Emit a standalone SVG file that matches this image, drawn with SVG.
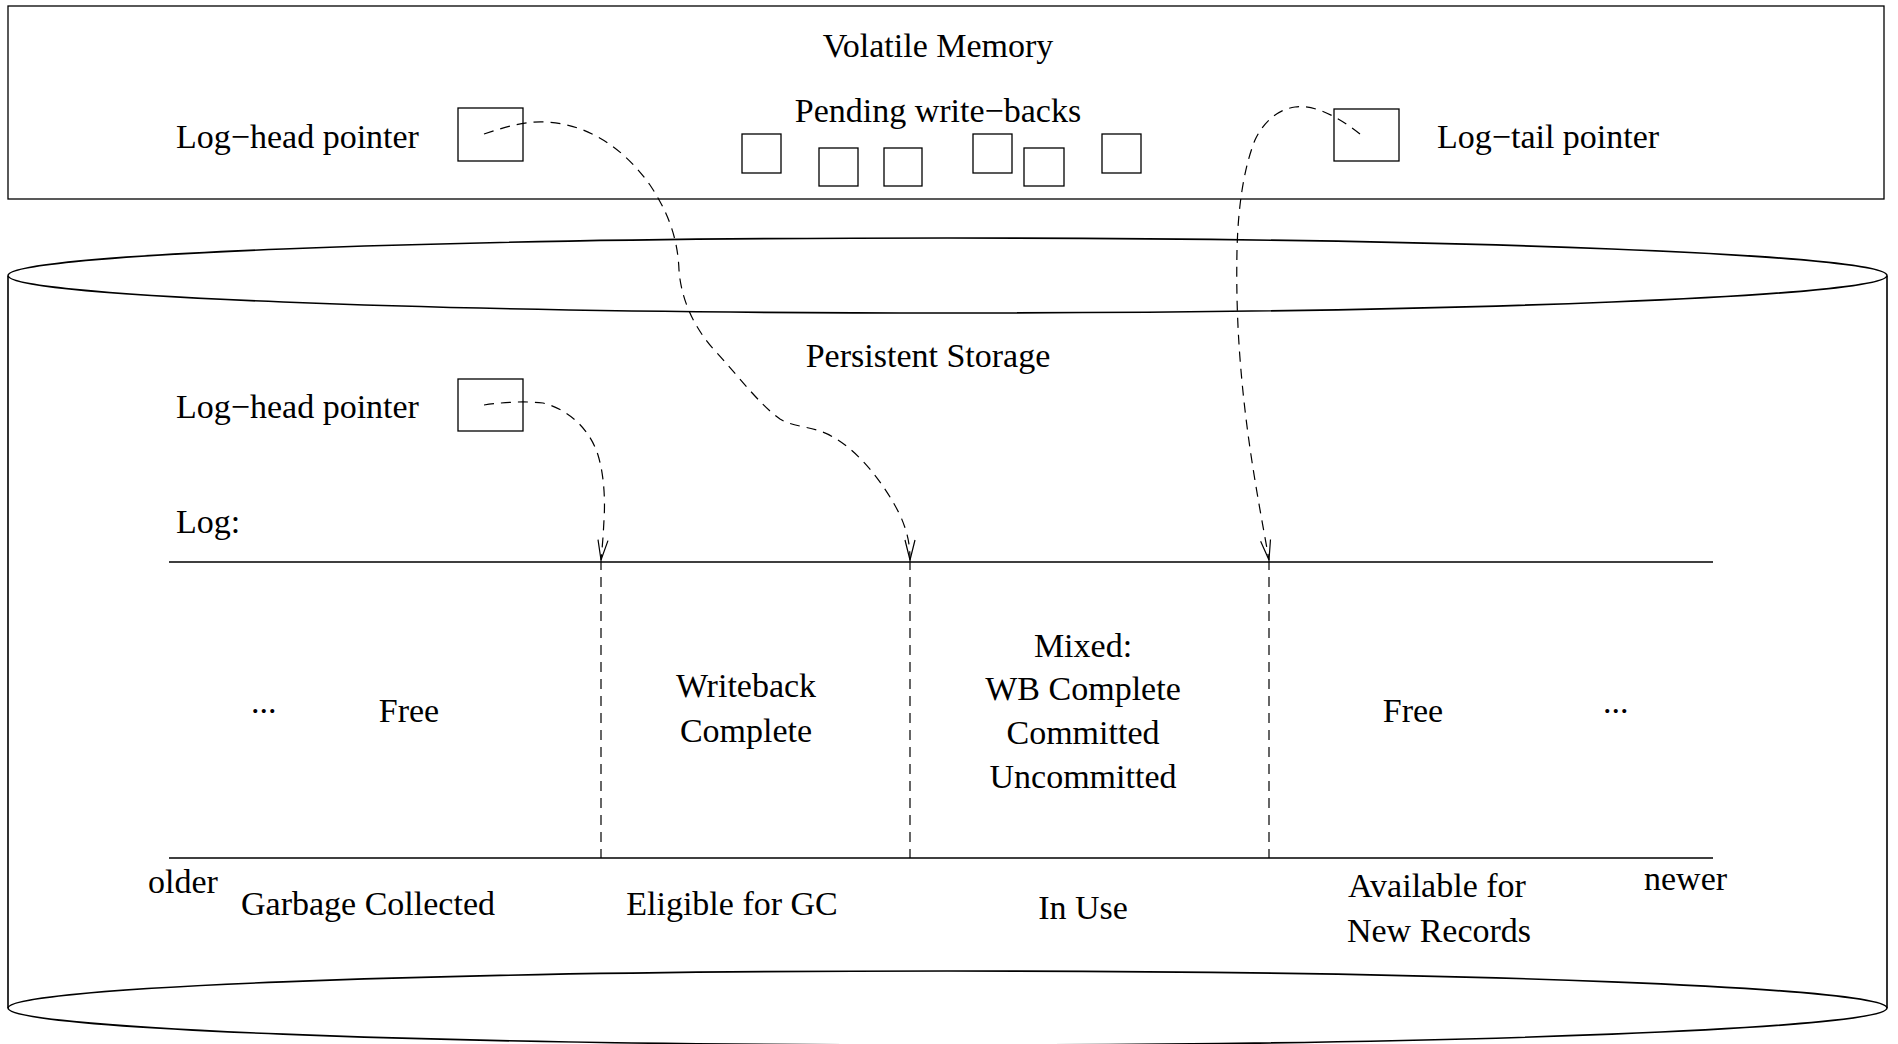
<svg xmlns="http://www.w3.org/2000/svg" width="1898" height="1044" viewBox="0 0 1898 1044">
<style>
  text { font-family: "Liberation Serif", "Times New Roman", serif; font-size: 34px; fill: #000; }
  .c { text-anchor: middle; }
  .box { fill: none; stroke: #000; stroke-width: 1.3; }
  .solid { fill: none; stroke: #000; stroke-width: 1.6; }
  .dash { fill: none; stroke: #000; stroke-width: 1.2; stroke-dasharray: 10 7; }
</style>
<defs>
  <marker id="arr" markerUnits="userSpaceOnUse" markerWidth="24" markerHeight="14" refX="20" refY="5" orient="auto" overflow="visible">
    <path d="M0,0 L20,5 L0,10" fill="none" stroke="#000" stroke-width="1.2" stroke-dasharray="none"/>
  </marker>
</defs>
<rect width="1898" height="1044" fill="#fff"/>

<g id="volatile-memory">
  <rect class="box" x="8" y="6" width="1876" height="193"/>
  <text class="c" x="938" y="57">Volatile Memory</text>
</g>
<g id="vm-log-head">
  <text x="176" y="148">Log−head pointer</text>
  <rect class="box" x="458" y="108" width="65" height="53"/>
</g>
<g id="pending-writebacks">
  <text class="c" x="938" y="122">Pending write−backs</text>
  <rect class="box" x="742" y="134" width="39" height="39"/>
  <rect class="box" x="819" y="148" width="39" height="38"/>
  <rect class="box" x="884" y="148" width="38" height="38"/>
  <rect class="box" x="973" y="134" width="39" height="39"/>
  <rect class="box" x="1024" y="148" width="40" height="38"/>
  <rect class="box" x="1102" y="134" width="39" height="39"/>
</g>
<g id="vm-log-tail">
  <rect class="box" x="1334" y="109" width="65" height="52"/>
  <text x="1437" y="148">Log−tail pointer</text>
</g>

<g id="persistent-storage">
  <path class="solid" d="M8,276 V1008 M1887,276 V1008"/>
  <ellipse class="solid" cx="947.5" cy="275.5" rx="939.5" ry="37.5"/>
  <ellipse class="solid" cx="947.5" cy="1008" rx="939.5" ry="37"/>
  <text class="c" x="928" y="367">Persistent Storage</text>
</g>
<g id="ps-log-head">
  <text x="176" y="418">Log−head pointer</text>
  <rect class="box" x="458" y="379" width="65" height="52"/>
</g>
<g id="log">
  <text x="176" y="533">Log:</text>
  <path class="solid" d="M169,562 H1713 M169,858 H1713"/>
  <text x="251" y="713">...</text>
  <text class="c" x="409" y="722">Free</text>
  <text class="c" x="746" y="697">Writeback</text>
  <text class="c" x="746" y="742">Complete</text>
  <text class="c" x="1083" y="657">Mixed:</text>
  <text class="c" x="1083" y="700">WB Complete</text>
  <text class="c" x="1083" y="744">Committed</text>
  <text class="c" x="1083" y="788">Uncommitted</text>
  <text class="c" x="1413" y="722">Free</text>
  <text x="1603" y="713">...</text>
  <text x="148" y="893">older</text>
  <text class="c" x="368" y="915">Garbage Collected</text>
  <text class="c" x="732" y="915">Eligible for GC</text>
  <text class="c" x="1083" y="919">In Use</text>
  <text class="c" x="1437" y="897">Available for</text>
  <text class="c" x="1439" y="942">New Records</text>
  <text x="1644" y="890">newer</text>
</g>

<g id="connectors">
  <path class="dash" d="M484,134 C505,127 525,121 545,122 C590,124 625,150 650,185 C672,218 678,245 679,270 C681,300 695,330 717,353 C740,378 760,405 780,419 C795,428 815,426 833,437 C860,452 885,485 900,515 C908,533 910,545 910,560" marker-end="url(#arr)"/>
  <path class="dash" d="M1360,134 C1340,118 1315,104 1295,107 C1275,110 1262,125 1255,140 C1243,170 1238,210 1237,250 C1236,300 1238,350 1245,410 C1252,470 1262,520 1269,560" marker-end="url(#arr)"/>
  <path class="dash" d="M484,405 C505,402 525,401 543,403 C570,410 590,430 598,455 C605,478 605,505 604,520 C603,540 602,550 601,560" marker-end="url(#arr)"/>
  <path class="dash" d="M601,560 V858 M910,560 V858 M1269,560 V858"/>
</g>
</svg>
